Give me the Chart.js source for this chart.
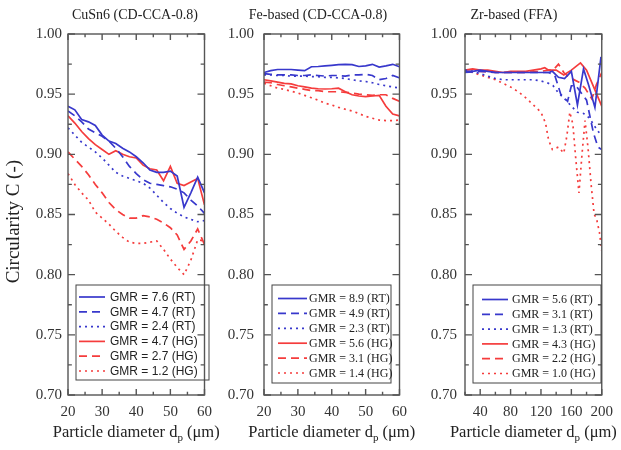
<!DOCTYPE html>
<html>
<head>
<meta charset="utf-8">
<script src="https://cdn.jsdelivr.net/npm/chart.js@4.4.1/dist/chart.umd.min.js"></script>
<style>
  body { margin: 0; background: #fff; }
  #wrap { position: relative; width: 621px; height: 450px; }
  canvas { position: absolute; top: 0; }
</style>
</head>
<body>
<div id="wrap">
  <canvas id="c1" width="220" height="450" style="left:0px"></canvas>
  <canvas id="c2" width="195" height="450" style="left:220px"></canvas>
  <canvas id="c3" width="206" height="450" style="left:415px"></canvas>
</div>
<script>
// ---- data ----
var diam = [20,22,24,26,28,30,32,34,36,38,40,42,44,46,48,50,52,54,56,58,60];
var yTicks = [0.70,0.75,0.80,0.85,0.90,0.95,1.00];
var xTicks12 = [20,30,40,50,60];
var xTicks3 = [40,80,120,160,200];

// CuSn6 (CD-CCA-0.8)
var cu_rt76 = [0.940,0.937,0.929,0.927,0.924,0.916,0.911,0.909,0.905,0.902,0.898,0.893,0.887,0.885,0.885,0.886,0.882,0.856,0.868,0.881,0.868];
var cu_rt47 = [0.936,0.932,0.927,0.921,0.918,0.915,0.911,0.905,0.898,0.890,0.884,0.879,0.876,0.875,0.874,0.873,0.871,0.868,0.862,0.857,0.851];
var cu_rt24 = [0.922,0.916,0.910,0.906,0.902,0.897,0.891,0.885,0.882,0.880,0.878,0.876,0.872,0.866,0.860,0.855,0.851,0.848,0.846,0.844,0.845];
var cu_hg47 = [0.932,0.926,0.919,0.913,0.908,0.904,0.900,0.903,0.900,0.898,0.897,0.891,0.888,0.887,0.878,0.890,0.876,0.874,0.877,0.880,0.858];
var cu_hg27 = [0.902,0.896,0.890,0.883,0.875,0.868,0.860,0.854,0.850,0.847,0.847,0.849,0.848,0.846,0.843,0.839,0.833,0.821,0.828,0.838,0.825];
var cu_hg12 = [0.884,0.875,0.868,0.862,0.852,0.847,0.842,0.836,0.831,0.827,0.826,0.826,0.827,0.828,0.821,0.813,0.806,0.800,0.812,0.829,0.828];

// Fe-based (CD-CCA-0.8)
var fe_rt89 = [0.968,0.9695,0.9705,0.9705,0.9705,0.970,0.9695,0.9728,0.973,0.9735,0.974,0.9745,0.9748,0.9745,0.973,0.9735,0.9748,0.9725,0.9735,0.9748,0.9728];
var fe_rt49 = [0.967,0.9665,0.966,0.966,0.966,0.9655,0.9655,0.966,0.9655,0.965,0.9655,0.9655,0.965,0.966,0.966,0.9665,0.9655,0.962,0.963,0.9655,0.9635];
var fe_rt23 = [0.966,0.966,0.9655,0.9655,0.965,0.965,0.965,0.9645,0.9645,0.964,0.964,0.9635,0.963,0.962,0.961,0.9605,0.9595,0.958,0.957,0.956,0.955];
var fe_hg56 = [0.962,0.961,0.960,0.959,0.9585,0.957,0.956,0.955,0.9545,0.9543,0.9545,0.955,0.952,0.9495,0.9485,0.948,0.9485,0.949,0.940,0.9335,0.932];
var fe_hg31 = [0.960,0.9595,0.958,0.957,0.956,0.955,0.954,0.953,0.953,0.952,0.952,0.952,0.9515,0.951,0.950,0.9495,0.949,0.9495,0.9495,0.9465,0.944];
var fe_hg14 = [0.959,0.957,0.955,0.954,0.9525,0.951,0.949,0.947,0.945,0.9425,0.941,0.939,0.9375,0.936,0.934,0.9315,0.930,0.9285,0.928,0.928,0.9285];

// Zr-based (FFA)
var zr_rt56_x = [20,30,40,50,60,70,80,90,100,110,120,130,135,143,151,160,168,176,183,191,199];
var zr_rt56   = [0.969,0.969,0.970,0.969,0.968,0.968,0.968,0.968,0.968,0.968,0.968,0.968,0.969,0.964,0.963,0.969,0.941,0.971,0.957,0.939,0.981];
var zr_rt31_x = [20,40,60,80,100,120,130,138,146,155,160,166,173,180,189,195,200];
var zr_rt31   = [0.968,0.969,0.968,0.968,0.968,0.968,0.968,0.966,0.950,0.944,0.957,0.957,0.951,0.945,0.918,0.906,0.904];
var zr_rt13_x = [20,30,40,50,60,70,80,90,100,110,120,130,136,143,153,160,168,176,184,192,200];
var zr_rt13   = [0.970,0.969,0.967,0.965,0.963,0.962,0.962,0.962,0.962,0.962,0.961,0.959,0.957,0.951,0.945,0.940,0.935,0.934,0.930,0.922,0.915];
var zr_hg43_x = [20,30,40,50,60,70,80,90,100,110,120,125,130,140,150,160,172,180,190,200];
var zr_hg43   = [0.970,0.971,0.970,0.970,0.969,0.968,0.969,0.969,0.969,0.970,0.971,0.972,0.970,0.970,0.966,0.970,0.976,0.970,0.955,0.940];
var zr_hg22_x = [20,40,60,80,100,120,130,136,143,150,157,170,178,187,193,200];
var zr_hg22   = [0.969,0.969,0.968,0.968,0.968,0.969,0.970,0.970,0.975,0.968,0.964,0.960,0.955,0.946,0.958,0.968];
var zr_hg10_x = [20,30,40,50,60,70,80,90,100,110,120,126,130,135,143,150,154,158,162,166,170,174,178,182,186,190,193,197,200];
var zr_hg10   = [0.970,0.968,0.966,0.964,0.962,0.959,0.956,0.952,0.947,0.941,0.935,0.926,0.912,0.904,0.906,0.901,0.915,0.935,0.925,0.895,0.868,0.900,0.928,0.905,0.875,0.850,0.847,0.835,0.820];

var blue = '#3838cc';
var red = '#f53c3c';
var serif = "'Liberation Serif', 'Times New Roman', serif";
var sans = "'Liberation Sans', Arial, sans-serif";

function pts(xs, ys){
    var out = [];
    for (var i = 0; i < ys.length; i++) out.push({x: xs[i], y: ys[i]});
    return out;
}

function ds(label, xs, ys, color, style){
    var dash = [];
    if (style == 'dash') dash = [8,5];
    if (style == 'dot') dash = [2,4];
    return {
        label: label,
        data: pts(xs, ys),
        borderColor: color,
        borderWidth: 1.7,
        borderDash: dash,
        pointRadius: 0,
        fill: false,
        tension: 0
    };
}

// frame, inward ticks, titles and legend box
var panelDeco = {
    id: 'panelDeco',
    afterDraw: function(chart, args, o){
        var ctx = chart.ctx, a = chart.chartArea;
        var sx = chart.scales.x, sy = chart.scales.y;
        ctx.save();
        ctx.strokeStyle = '#555';
        ctx.lineWidth = 1.4;
        ctx.setLineDash([]);
        ctx.strokeRect(a.left, a.top, a.right - a.left, a.bottom - a.top);

        function tickSet(scale, len, isX){
            var t = scale.ticks;
            var step = (t[1].value - t[0].value) / 2;
            for (var v = scale.min; v <= scale.max + 1e-9; v += step){
                var major = false;
                for (var k = 0; k < t.length; k++) if (Math.abs(t[k].value - v) < 1e-6) major = true;
                var l = major ? len : len * 0.55;
                var p = scale.getPixelForValue(v);
                ctx.beginPath();
                if (isX){
                    ctx.moveTo(p, a.bottom); ctx.lineTo(p, a.bottom - l);
                    ctx.moveTo(p, a.top); ctx.lineTo(p, a.top + l);
                } else {
                    ctx.moveTo(a.left, p); ctx.lineTo(a.left + l, p);
                    ctx.moveTo(a.right, p); ctx.lineTo(a.right - l, p);
                }
                ctx.stroke();
            }
        }
        tickSet(sx, 6, true);
        tickSet(sy, 7, false);

        // panel title
        ctx.fillStyle = '#222';
        ctx.font = '14px ' + serif;
        ctx.textAlign = 'center';
        ctx.textBaseline = 'middle';
        ctx.fillText(o.title, o.titleX, 15);

        // x axis title with subscript p
        var big = '16.5px ' + serif, small = '11px ' + serif;
        var t1 = 'Particle diameter d', t2 = 'p', t3 = ' (μm)';
        ctx.font = big;
        var w1 = ctx.measureText(t1).width, w3 = ctx.measureText(t3).width;
        ctx.font = small;
        var w2 = ctx.measureText(t2).width;
        var x0 = (a.left + a.right) / 2 - (w1 + w2 + w3) / 2;
        var yb = 437;
        ctx.textAlign = 'left';
        ctx.textBaseline = 'alphabetic';
        ctx.font = big;
        ctx.fillText(t1, x0, yb);
        ctx.fillText(t3, x0 + w1 + w2, yb);
        ctx.font = small;
        ctx.fillText(t2, x0 + w1, yb + 4);

        // legend
        var L = o.legend;
        ctx.strokeStyle = '#444';
        ctx.lineWidth = 1;
        ctx.strokeRect(L.x, L.y, L.w, L.h);
        ctx.font = L.font;
        ctx.textBaseline = 'middle';
        chart.data.datasets.forEach(function(d, i){
            var y = L.row0 + i * L.rowDy;
            ctx.strokeStyle = d.borderColor;
            ctx.lineWidth = d.borderWidth;
            ctx.setLineDash(d.borderDash);
            ctx.beginPath();
            ctx.moveTo(L.s1, y); ctx.lineTo(L.s2, y);
            ctx.stroke();
            ctx.fillStyle = '#222';
            ctx.fillText(d.label, L.tx, y + 0.5);
        });
        ctx.restore();
    }
};

Chart.defaults.color = '#222';

function makePanel(id, xMin, xMax, xt, datasets, yWidth, rightPad, yLabPad, showYTitle, deco){
    var ctx = document.getElementById(id);
    return new Chart(ctx, {
        type: 'line',
        data: { datasets: datasets },
        plugins: [panelDeco],
        options: {
            responsive: false,
            animation: false,
            layout: { padding: { top: 34, right: rightPad, left: 0, bottom: 0 } },
            scales: {
                x: {
                    type: 'linear', min: xMin, max: xMax,
                    afterBuildTicks: function(s){ s.ticks = xt.map(function(v){ return {value: v}; }); },
                    afterFit: function(s){ s.height = 55; },
                    grid: { display: false, drawTicks: false },
                    border: { display: false },
                    ticks: { padding: 8, color: '#333', font: { family: serif, size: 15 }, callback: function(v){ return v; } },
                    title: { display: false }
                },
                y: {
                    min: 0.70, max: 1.00,
                    afterBuildTicks: function(s){ s.ticks = yTicks.map(function(v){ return {value: v}; }); },
                    afterFit: function(s){ s.width = yWidth; },
                    grid: { display: false, drawTicks: false },
                    border: { display: false },
                    ticks: { padding: yLabPad, color: '#333', font: { family: serif, size: 15 }, callback: function(v){ return v.toFixed(2); } },
                    title: { display: showYTitle, text: 'Circularity C (-)\u00a0\u00a0\u00a0', color: '#222', font: { family: serif, size: 19 }, padding: { top: 3 } }
                }
            },
            plugins: { legend: { display: false }, tooltip: { enabled: false }, panelDeco: deco }
        }
    });
}

makePanel('c1', 20, 60, xTicks12, [
    ds('GMR = 7.6 (RT)', diam, cu_rt76, blue, 'solid'),
    ds('GMR = 4.7 (RT)', diam, cu_rt47, blue, 'dash'),
    ds('GMR = 2.4 (RT)', diam, cu_rt24, blue, 'dot'),
    ds('GMR = 4.7 (HG)', diam, cu_hg47, red, 'solid'),
    ds('GMR = 2.7 (HG)', diam, cu_hg27, red, 'dash'),
    ds('GMR = 1.2 (HG)', diam, cu_hg12, red, 'dot')
], 68, 7, 6, true, {
    title: 'CuSn6 (CD-CCA-0.8)', titleX: 135,
    legend: { x: 76, y: 285, w: 133, h: 95, s1: 79, s2: 105, tx: 110, row0: 297, rowDy: 14.8, font: '12px ' + sans }
});

makePanel('c2', 20, 60, xTicks12, [
    ds('GMR = 8.9 (RT)', diam, fe_rt89, blue, 'solid'),
    ds('GMR = 4.9 (RT)', diam, fe_rt49, blue, 'dash'),
    ds('GMR = 2.3 (RT)', diam, fe_rt23, blue, 'dot'),
    ds('GMR = 5.6 (HG)', diam, fe_hg56, red, 'solid'),
    ds('GMR = 3.1 (HG)', diam, fe_hg31, red, 'dash'),
    ds('GMR = 1.4 (HG)', diam, fe_hg14, red, 'dot')
], 44, 6, 10, false, {
    title: 'Fe-based (CD-CCA-0.8)', titleX: 98,
    legend: { x: 52, y: 285, w: 119, h: 98, s1: 58, s2: 87, tx: 89, row0: 298.5, rowDy: 14.9, font: '12px ' + serif }
});

makePanel('c3', 20, 200, xTicks3, [
    ds('GMR = 5.6 (RT)', zr_rt56_x, zr_rt56, blue, 'solid'),
    ds('GMR = 3.1 (RT)', zr_rt31_x, zr_rt31, blue, 'dash'),
    ds('GMR = 1.3 (RT)', zr_rt13_x, zr_rt13, blue, 'dot'),
    ds('GMR = 4.3 (HG)', zr_hg43_x, zr_hg43, red, 'solid'),
    ds('GMR = 2.2 (HG)', zr_hg22_x, zr_hg22, red, 'dash'),
    ds('GMR = 1.0 (HG)', zr_hg10_x, zr_hg10, red, 'dot')
], 50, 12, 8, false, {
    title: 'Zr-based (FFA)', titleX: 99,
    legend: { x: 58, y: 285, w: 128, h: 98, s1: 67, s2: 93, tx: 97, row0: 299.5, rowDy: 14.8, font: '12px ' + serif }
});
</script>
</body>
</html>
